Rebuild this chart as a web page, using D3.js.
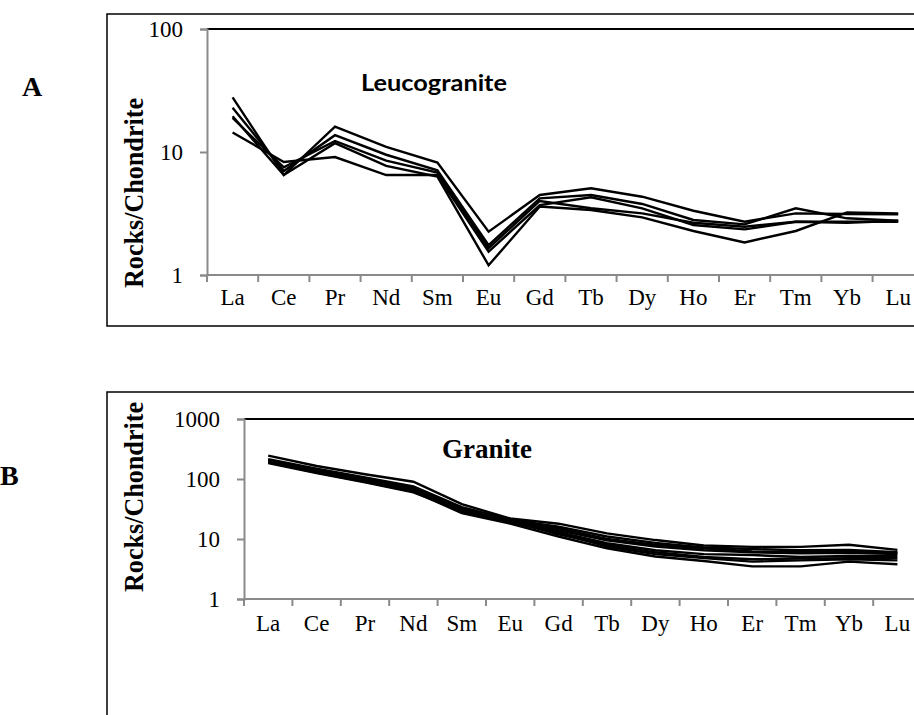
<!DOCTYPE html>
<html lang="en">
<head>
    <meta charset="UTF-8">
    <title>REE Chondrite-normalised patterns</title>
    <script src="https://d3js.org/d3.v7.min.js"></script>
    <style>
        body { margin: 0; background: #fff; }
        svg { display: block; }
        .tick-label { font-family: "Liberation Serif", "Times New Roman", serif; font-size: 23px; fill: #000; }
        .axis-title { font-family: "Liberation Serif", "Times New Roman", serif; font-size: 28px; font-weight: bold; }
    </style>
</head>
<body>
<script>
    // REE order on the x axis
    const elements = ["La", "Ce", "Pr", "Nd", "Sm", "Eu", "Gd", "Tb", "Dy", "Ho", "Er", "Tm", "Yb", "Lu"];

    // panel A - leucogranite samples (rock / chondrite)
    const leuco1 = [27.8, 6.5, 16.1, 11.0, 8.2, 2.25, 4.47, 5.07, 4.33, 3.33, 2.71, 3.17, 3.13, 3.11];
    const leuco2 = [22.9, 7.0, 13.7, 9.5, 7.1, 1.75, 4.2, 4.47, 3.78, 2.80, 2.58, 3.49, 2.89, 2.76];
    const leuco3 = [18.9, 7.5, 12.3, 8.5, 6.8, 1.65, 4.0, 3.49, 3.17, 2.66, 2.47, 2.71, 2.71, 2.71];
    const leuco4 = [14.4, 8.3, 9.1, 6.5, 6.5, 1.55, 3.7, 4.28, 3.48, 2.55, 2.35, 2.71, 2.66, 2.76];
    const leuco5 = [19.5, 6.5, 11.8, 7.7, 6.3, 1.2, 3.6, 3.38, 2.94, 2.28, 1.84, 2.28, 3.23, 3.17];
    const leucoSamples = [leuco1, leuco2, leuco3, leuco4, leuco5];
    const leucoTicks = [1, 10, 100];

    // panel B - granite samples
    const gran1 = [245, 165, 120, 90, 38, 22, 18, 12.4, 9.6, 7.8, 7.4, 7.4, 8.0, 6.6];
    const gran2 = [215, 148, 106, 75, 34, 21, 16, 11, 8.6, 7.2, 6.8, 6.5, 6.6, 6.0];
    const gran3 = [205, 140, 100, 70, 31, 20, 14, 9.5, 7.5, 6.5, 6.0, 5.8, 5.9, 5.6];
    const gran4 = [200, 135, 96, 68, 30, 19, 13, 8.5, 6.5, 5.6, 5.4, 5.0, 5.2, 5.2];
    const gran5 = [195, 132, 93, 64, 28, 20, 12, 8, 6, 5, 4.6, 4.7, 4.8, 4.8];
    const gran6 = [190, 128, 90, 62, 27, 18, 11, 7, 5.1, 4.3, 3.5, 3.5, 4.2, 3.8];
    const gran7 = [185, 125, 88, 60, 29, 19, 12.5, 7.5, 5.6, 4.8, 4.2, 4.4, 4.6, 4.4];
    const gran8 = [200, 137, 98, 72, 33, 21, 15, 10, 8, 7, 6.2, 6.0, 6.2, 5.9];
    const granSamples = [gran1, gran2, gran3, gran4, gran5, gran6, gran7, gran8];
    const granTicks = [1, 10, 100, 1000];

    const width = 914, height = 715;
    const svg = d3.select("body").append("svg")
        .attr("width", width)
        .attr("height", height);

    const axisGrey = "#8a8a8a";

    function drawPanel(opts) {
        const g = svg.append("g");
        const { left, top, bottom, band, domain } = opts;

        const x = d3.scaleBand().domain(elements).range([left, left + band * elements.length]).padding(0);
        const y = d3.scaleLog().domain(domain).range([bottom, top]);

        // outer frame (runs off the right edge like the source figure)
        g.append("rect")
            .attr("x", 107).attr("y", opts.boxTop)
            .attr("width", 850).attr("height", opts.boxBottom - opts.boxTop)
            .attr("fill", "none").attr("stroke", "#000").attr("stroke-width", 1.5);

        // plot area top border
        g.append("line")
            .attr("x1", left).attr("x2", width + 10)
            .attr("y1", top).attr("y2", top)
            .attr("stroke", "#000").attr("stroke-width", 2.2);

        // y axis
        const yAxis = g.append("g")
            .attr("transform", `translate(${left},0)`)
            .call(d3.axisLeft(y).tickValues(opts.ticks).tickFormat(d3.format("d")).tickSize(7).tickPadding(17));
        yAxis.select(".domain").attr("stroke", axisGrey).attr("stroke-width", 2);
        yAxis.selectAll(".tick line").attr("stroke", axisGrey).attr("stroke-width", 2);
        yAxis.selectAll(".tick text").attr("class", "tick-label").attr("font-family", null).attr("font-size", null)
            .attr("dy", "0.33em");

        // x axis: line, boundary ticks, element labels at band centres
        g.append("line")
            .attr("x1", left).attr("x2", width + 10)
            .attr("y1", bottom).attr("y2", bottom)
            .attr("stroke", axisGrey).attr("stroke-width", 2);
        g.selectAll(".xtick").data(elements.concat(["end"]))
            .enter().append("line")
            .attr("x1", (d, i) => left + i * band).attr("x2", (d, i) => left + i * band)
            .attr("y1", bottom).attr("y2", bottom + 7)
            .attr("stroke", axisGrey).attr("stroke-width", 2);
        g.selectAll(".xlab").data(elements)
            .enter().append("text")
            .attr("class", "tick-label")
            .attr("x", d => x(d) + x.bandwidth() / 2)
            .attr("y", bottom + opts.labelGap)
            .attr("text-anchor", "middle")
            .text(d => d);

        // sample lines
        const line = d3.line()
            .x((d, i) => x(elements[i]) + x.bandwidth() / 2)
            .y(d => y(d));
        g.selectAll(".sample").data(opts.samples)
            .enter().append("path")
            .attr("d", line)
            .attr("fill", "none")
            .attr("stroke", "#000")
            .attr("stroke-width", opts.lineWidth)
            .attr("stroke-linejoin", "miter");

        // y axis title (condensed bold serif)
        g.append("text")
            .attr("class", "axis-title")
            .attr("transform", `translate(143,${opts.titleY}) rotate(-90)`)
            .attr("text-anchor", "middle")
            .attr("textLength", 190)
            .attr("lengthAdjust", "spacingAndGlyphs")
            .text("Rocks/Chondrite");

        return g;
    }

    drawPanel({
        left: 207, top: 29, bottom: 275, band: 51.2, domain: [1, 100],
        ticks: leucoTicks, samples: leucoSamples, lineWidth: 2.4,
        boxTop: 14, boxBottom: 326, labelGap: 30, titleY: 193
    });

    drawPanel({
        left: 244, top: 419, bottom: 599, band: 48.4, domain: [1, 1000],
        ticks: granTicks, samples: granSamples, lineWidth: 2.4,
        boxTop: 392, boxBottom: 760, labelGap: 32, titleY: 497
    });

    // panel letters and rock names
    svg.append("text").attr("x", 22).attr("y", 96)
        .attr("font-family", "Liberation Serif, serif").attr("font-weight", "bold").attr("font-size", 28)
        .text("A");
    svg.append("text").attr("x", 0).attr("y", 485)
        .attr("font-family", "Liberation Serif, serif").attr("font-weight", "bold").attr("font-size", 28)
        .text("B");
    svg.append("text").attr("x", 361).attr("y", 91)
        .attr("font-family", "Lato, 'Open Sans', sans-serif").attr("font-weight", "bold").attr("font-size", 22)
        .attr("textLength", 146)
        .attr("lengthAdjust", "spacingAndGlyphs")
        .text("Leucogranite");
    svg.append("text").attr("x", 442).attr("y", 458)
        .attr("font-family", "Liberation Serif, serif").attr("font-weight", "bold").attr("font-size", 27)
        .text("Granite");
</script>
</body>
</html>
